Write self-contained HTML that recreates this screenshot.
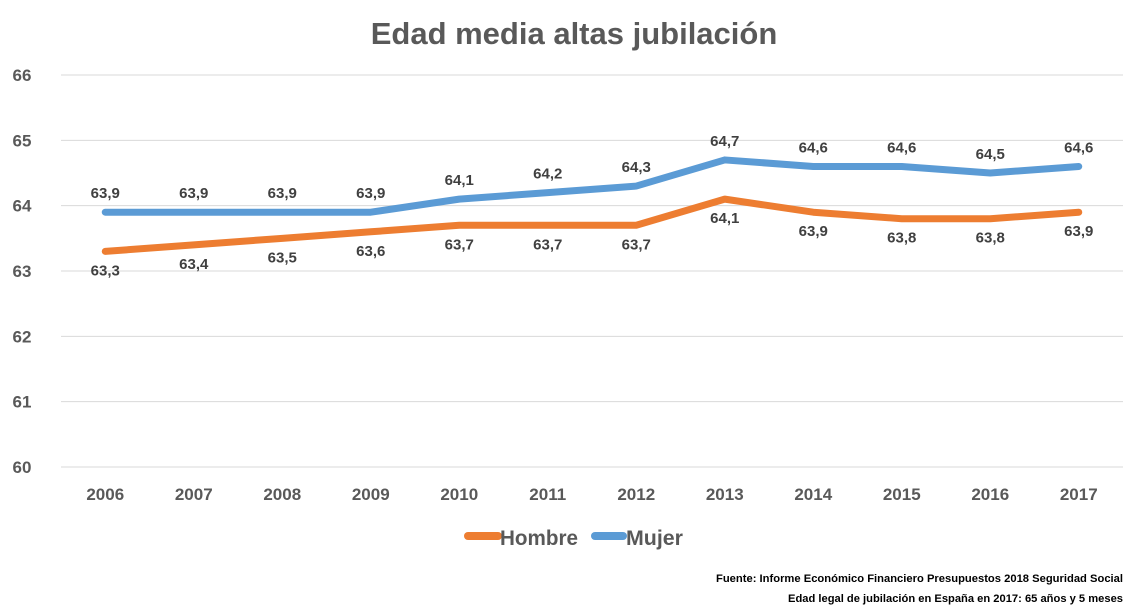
<!DOCTYPE html>
<html><head><meta charset="utf-8"><style>
body{margin:0;background:#fff;}
svg{display:block;font-family:"Liberation Sans",sans-serif;}
</style></head><body>
<svg id="chart" width="1140" height="611">
<text x="574" y="44" text-anchor="middle" font-size="31" font-weight="bold" fill="#595959">Edad media altas jubilación</text>
<g id="grid"></g><g id="xaxis"></g><g id="series"></g>
<g>
<line x1="468" y1="536" x2="498" y2="536" stroke="#ED7D31" stroke-width="8" stroke-linecap="round"/>
<text x="500" y="545" font-size="21" font-weight="bold" fill="#595959" textLength="78" lengthAdjust="spacingAndGlyphs">Hombre</text>
<line x1="595" y1="536" x2="623" y2="536" stroke="#5B9BD5" stroke-width="8" stroke-linecap="round"/>
<text x="626" y="545" font-size="21" font-weight="bold" fill="#595959" textLength="57" lengthAdjust="spacingAndGlyphs">Mujer</text>
</g>
<text x="1123" y="582" text-anchor="end" font-size="11" font-weight="bold" fill="#000" textLength="407" lengthAdjust="spacingAndGlyphs">Fuente: Informe Económico Financiero Presupuestos 2018 Seguridad Social</text>
<text x="1123" y="602" text-anchor="end" font-size="11" font-weight="bold" fill="#000" textLength="335" lengthAdjust="spacingAndGlyphs">Edad legal de jubilación en España en 2017: 65 años y 5 meses</text>
</svg>
<script>
const categories=["2006","2007","2008","2009","2010","2011","2012","2013","2014","2015","2016","2017"];
const hombre=[63.3,63.4,63.5,63.6,63.7,63.7,63.7,64.1,63.9,63.8,63.8,63.9];
const mujer=[63.9,63.9,63.9,63.9,64.1,64.2,64.3,64.7,64.6,64.6,64.5,64.6];
const yTicks=[60,61,62,63,64,65,66];
const NS="http://www.w3.org/2000/svg";
const L=61,R=1123,Y0=467,Y1=75;
const xs=i=>L+(R-L)/categories.length*(i+0.5);
const ys=v=>Y0-(v-60)/(66-60)*(Y0-Y1);
function mk(t,a,p){const e=document.createElementNS(NS,t);for(const k in a)e.setAttribute(k,a[k]);p.appendChild(e);return e;}
const grid=document.getElementById('grid');
yTicks.forEach(v=>{
 const l=mk('line',{x1:L,x2:R,y1:ys(v),y2:ys(v),stroke:'#d9d9d9','stroke-width':1},grid);
 
 
 const t=mk('text',{x:22,y:ys(v)+6,'text-anchor':'middle','font-size':17,'font-weight':'bold',fill:'#595959'},grid);
 t.textContent=v;
 
 
});
const xa=document.getElementById('xaxis');
categories.forEach((c,i)=>{
 const t=mk('text',{x:xs(i),y:500,'text-anchor':'middle','font-size':17,'font-weight':'bold',fill:'#595959'},xa);
 t.textContent=c;
 
 
});
const sg=document.getElementById('series');
[[hombre,'#ED7D31','hombre',24],[mujer,'#5B9BD5','mujer',-14]].forEach(([d,col,nm,off])=>{
 const p=mk('polyline',{points:d.map((v,i)=>xs(i)+','+ys(v)).join(' '),fill:'none',stroke:col,'stroke-width':7,'stroke-linejoin':'round','stroke-linecap':'round'},sg);
 
 
 d.forEach((v,i)=>{
  const t=mk('text',{x:xs(i),y:ys(v)+off,'text-anchor':'middle','font-size':15,'font-weight':'bold',fill:'#404040'},sg);
  t.textContent=v.toFixed(1).replace('.',',');
  
  
 });
});
</script>
</body></html>
